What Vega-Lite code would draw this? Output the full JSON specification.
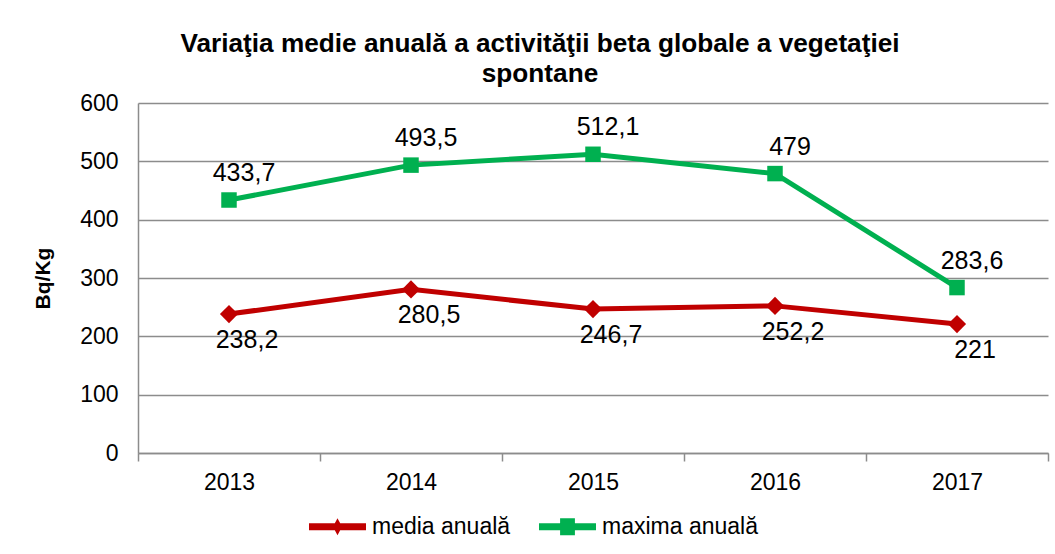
{
  "$schema": "https://vega.github.io/schema/vega-lite/v6.json",
  "width": 910,
  "height": 350,
  "autosize": {"type": "none"},
  "padding": {"left": 138, "top": 103, "right": 7, "bottom": 101},
  "background": "white",
  "title": {
    "text": ["Variaţia medie anuală a activităţii beta globale a vegetaţiei", "spontane"],
    "font": "Liberation Sans",
    "fontSize": 26.2,
    "fontWeight": "bold",
    "color": "black",
    "lineHeight": 30,
    "anchor": "middle",
    "dx": -53,
    "offset": 5
  },
  "data": {
    "values": [
      {"year": "2013", "series": "media anuală", "value": 238.2},
      {"year": "2014", "series": "media anuală", "value": 280.5},
      {"year": "2015", "series": "media anuală", "value": 246.7},
      {"year": "2016", "series": "media anuală", "value": 252.2},
      {"year": "2017", "series": "media anuală", "value": 221},
      {"year": "2013", "series": "maxima anuală", "value": 433.7},
      {"year": "2014", "series": "maxima anuală", "value": 493.5},
      {"year": "2015", "series": "maxima anuală", "value": 512.1},
      {"year": "2016", "series": "maxima anuală", "value": 479},
      {"year": "2017", "series": "maxima anuală", "value": 283.6}
    ]
  },
  "encoding": {
    "x": {
      "field": "year",
      "type": "nominal",
      "bandPosition": 0.5,
      "scale": {"type": "band", "paddingInner": 0, "paddingOuter": 0},
      "axis": {
        "title": null,
        "labelAngle": 0,
        "labelFont": "Liberation Sans",
        "labelFontSize": 23,
        "labelColor": "black",
        "labelPadding": 10,
        "tickBand": "extent",
        "ticks": true,
        "tickSize": 8,
        "tickColor": "#8c8c8c",
        "tickWidth": 1.5,
        "domainColor": "#8c8c8c",
        "domainWidth": 1.5,
        "grid": false
      }
    },
    "y": {
      "field": "value",
      "type": "quantitative",
      "scale": {"domain": [0, 600], "nice": false, "zero": true},
      "axis": {
        "title": "Bq/Kg",
        "titleFont": "Liberation Sans",
        "titleFontSize": 21,
        "titleFontWeight": "bold",
        "titleColor": "black",
        "titlePadding": 26,
        "values": [0, 100, 200, 300, 400, 500, 600],
        "labelFont": "Liberation Sans",
        "labelFontSize": 23,
        "labelColor": "black",
        "labelPadding": 20,
        "ticks": false,
        "tickSize": 0,
        "domainColor": "#8c8c8c",
        "domainWidth": 1.5,
        "grid": true,
        "gridColor": "#8c8c8c",
        "gridWidth": 1.5
      }
    },
    "color": {
      "field": "series",
      "type": "nominal",
      "scale": {"domain": ["media anuală", "maxima anuală"], "range": ["#C00000", "#00B050"]},
      "legend": {
        "title": null,
        "orient": "none",
        "direction": "horizontal",
        "legendX": 171,
        "legendY": 395,
        "padding": 0,
        "symbolSize": 3249,
        "symbolStrokeWidth": 0,
        "symbolOpacity": 1,
        "labelFont": "Liberation Sans",
        "labelFontSize": 23,
        "labelColor": "black",
        "labelOffset": 6,
        "columnPadding": 28,
        "encode": {
          "symbols": {
            "update": {
              "shape": {"signal": "datum.value === 'media anuală' ? 'M-1,-0.12L-0.094,-0.12L0,-0.3L0.094,-0.12L1,-0.12L1,0.12L0.094,0.12L0,0.3L-0.094,0.12L-1,0.12Z' : 'M-1,-0.12L-0.26,-0.12L-0.26,-0.3L0.26,-0.3L0.26,-0.12L1,-0.12L1,0.12L0.26,0.12L0.26,0.3L-0.26,0.3L-0.26,0.12L-1,0.12Z'"},
              "fill": {"signal": "datum.value === 'media anuală' ? '#C00000' : '#00B050'"},
              "strokeWidth": {"value": 0},
              "opacity": {"value": 1}
            }
          }
        }
      }
    }
  },
  "layer": [
    {
      "mark": {"type": "line", "strokeWidth": 5}
    },
    {
      "transform": [{"filter": "datum.series === 'media anuală'"}],
      "mark": {"type": "point", "shape": "diamond", "filled": true, "opacity": 1, "size": 330, "strokeWidth": 0}
    },
    {
      "transform": [{"filter": "datum.series === 'maxima anuală'"}],
      "mark": {"type": "point", "shape": "square", "filled": true, "opacity": 1, "size": 240, "strokeWidth": 0}
    },
    {
      "transform": [{"filter": "datum.series === 'maxima anuală'"}],
      "mark": {"type": "text", "font": "Liberation Sans", "fontSize": 25, "dy": -27, "dx": 15, "baseline": "middle"},
      "encoding": {
        "text": {"field": "value", "type": "quantitative", "format": ".4~r"},
        "color": {"value": "black"}
      }
    },
    {
      "transform": [{"filter": "datum.series === 'media anuală'"}],
      "mark": {"type": "text", "font": "Liberation Sans", "fontSize": 25, "dy": 26, "dx": 18, "baseline": "middle"},
      "encoding": {
        "text": {"field": "value", "type": "quantitative", "format": ".4~r"},
        "color": {"value": "black"}
      }
    }
  ],
  "config": {
    "view": {"stroke": null},
    "locale": {"number": {"decimal": ",", "thousands": ".", "grouping": [3], "currency": ["", ""]}}
  }
}
